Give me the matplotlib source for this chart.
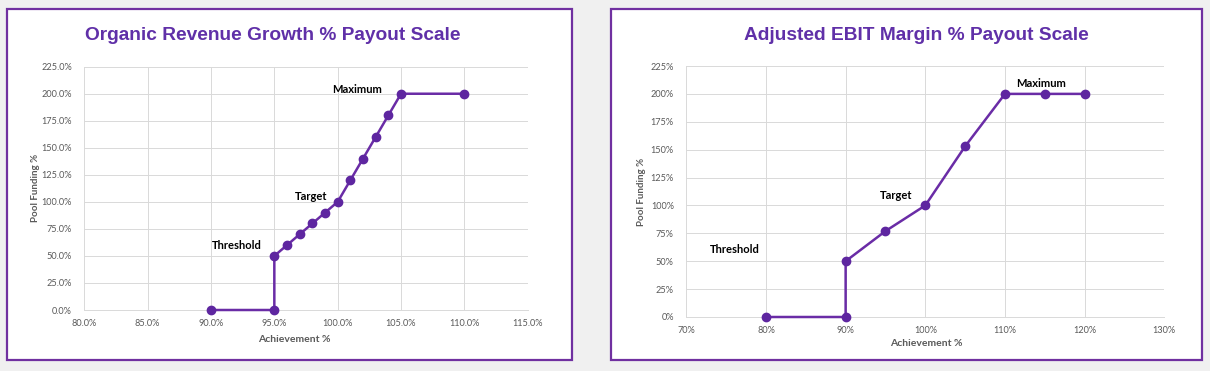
import matplotlib
matplotlib.use("Agg")
import matplotlib.pyplot as plt
from matplotlib.patches import Rectangle
from matplotlib.ticker import FuncFormatter

# ---- data ----
org_x = [90, 95, 95, 96, 97, 98, 99, 100, 101, 102, 103, 104, 105, 110]
org_y = [0, 0, 50, 60, 70, 80, 90, 100, 120, 140, 160, 180, 200, 200]
org_labels = ["Threshold", "Target", "Maximum"]
org_label_pos = [(92.0, 60), (97.9, 105), (101.5, 204)]

ebit_x = [80, 90, 90, 95, 100, 105, 110, 115, 120]
ebit_y = [0, 0, 50, 77, 100, 153, 200, 200, 200]
ebit_labels = ["Threshold", "Target", "Maximum"]
ebit_label_pos = [(76.1, 60.5), (96.4, 108.5), (114.5, 209.5)]

org_title = "Organic Revenue Growth % Payout Scale"
ebit_title = "Adjusted EBIT Margin % Payout Scale"
xlabel = "Achievement %"
ylabel = "Pool Funding %"

W, H = 1210, 371
PURPLE = "#6A2CA6"
MARK = "#5E26A0"
TITLE_C = "#6030A8"
GRID = "#d9d9d9"
TICK_C = "#595959"

fig = plt.figure(figsize=(W / 100, H / 100), dpi=100)
fig.patch.set_facecolor("#f0f0f0")


def px_rect(x0, y0, x1, y1):
    # pixel coords (top-left origin) -> figure fraction
    return [x0 / W, 1 - y1 / H, (x1 - x0) / W, (y1 - y0) / H]


# panel frames
for (x0, y0, x1, y1) in [(7, 9, 572, 360), (611.5, 9, 1202, 360)]:
    fig.patches.append(Rectangle((x0 / W, 1 - y1 / H), (x1 - x0) / W, (y1 - y0) / H,
                                 transform=fig.transFigure, facecolor="white",
                                 edgecolor="#7030A0", linewidth=1.6, zorder=-5))


def draw(ax, xs, ys, xlim, xstep, fmt_x, fmt_y, labels, lpos, xpad):
    ax.set_facecolor("white")
    ax.set_zorder(2)
    ax.plot(xs, ys, color=PURPLE, linewidth=1.8, marker="o", markersize=6,
            markerfacecolor=MARK, markeredgecolor=MARK, zorder=3, clip_on=False)
    ax.set_xlim(*xlim)
    ax.set_ylim(0, 225)
    ax.set_xticks(list(range(xlim[0], xlim[1] + 1, xstep)))
    ax.set_yticks(list(range(0, 226, 25)))
    ax.xaxis.set_major_formatter(FuncFormatter(fmt_x))
    ax.yaxis.set_major_formatter(FuncFormatter(fmt_y))
    ax.grid(True, color=GRID, linewidth=0.7)
    ax.set_axisbelow(True)
    for s in ["top", "right", "left"]:
        ax.spines[s].set_visible(False)
    ax.spines["bottom"].set_color(GRID)
    ax.spines["bottom"].set_linewidth(0.7)
    ax.tick_params(length=0, labelsize=6.6, labelcolor=TICK_C)
    for lab in ax.get_xticklabels() + ax.get_yticklabels():
        lab.set_fontfamily("Lato")
    ax.tick_params(axis="y", pad=9)
    ax.tick_params(axis="x", pad=xpad)
    for t, (x, y) in zip(labels, lpos):
        ax.text(x, y, t, ha="center", va="center", fontsize=8, fontweight="bold",
                family="Lato", color="black")


# left chart
ax1 = fig.add_axes(px_rect(84.3, 66.7, 527.7, 310))
draw(ax1, org_x, org_y, (80, 115), 5,
     lambda v, p: f"{v:.1f}%", lambda v, p: f"{v:.1f}%", org_labels, org_label_pos, 6.5)

# right chart
ax2 = fig.add_axes(px_rect(686.3, 66, 1164.3, 317))
draw(ax2, ebit_x, ebit_y, (70, 130), 10,
     lambda v, p: f"{v:.0f}%", lambda v, p: f"{v:.0f}%", ebit_labels, ebit_label_pos, 6.5)

# titles
fig.text(272.5 / W, 1 - 35 / H, org_title, ha="center", va="center", fontsize=13.8,
         fontweight="bold", family="Liberation Sans", color=TITLE_C)
fig.text(916 / W, 1 - 35 / H, ebit_title, ha="center", va="center", fontsize=13.8,
         fontweight="bold", family="Liberation Sans", color=TITLE_C)

# axis labels
fig.text(294 / W, 1 - 340 / H, xlabel, ha="center", va="center", fontsize=7.5,
         fontweight="bold", family="Lato", color=TICK_C)
fig.text(926 / W, 1 - 343 / H, xlabel, ha="center", va="center", fontsize=7.5,
         fontweight="bold", family="Lato", color=TICK_C)
fig.text(35 / W, 1 - 188 / H, ylabel, ha="center", va="center", fontsize=7,
         fontweight="bold", family="Lato", color=TICK_C, rotation=90)
fig.text(641 / W, 1 - 192 / H, ylabel, ha="center", va="center", fontsize=7,
         fontweight="bold", family="Lato", color=TICK_C, rotation=90)

fig.savefig("out.png", dpi=100, facecolor=fig.get_facecolor())
